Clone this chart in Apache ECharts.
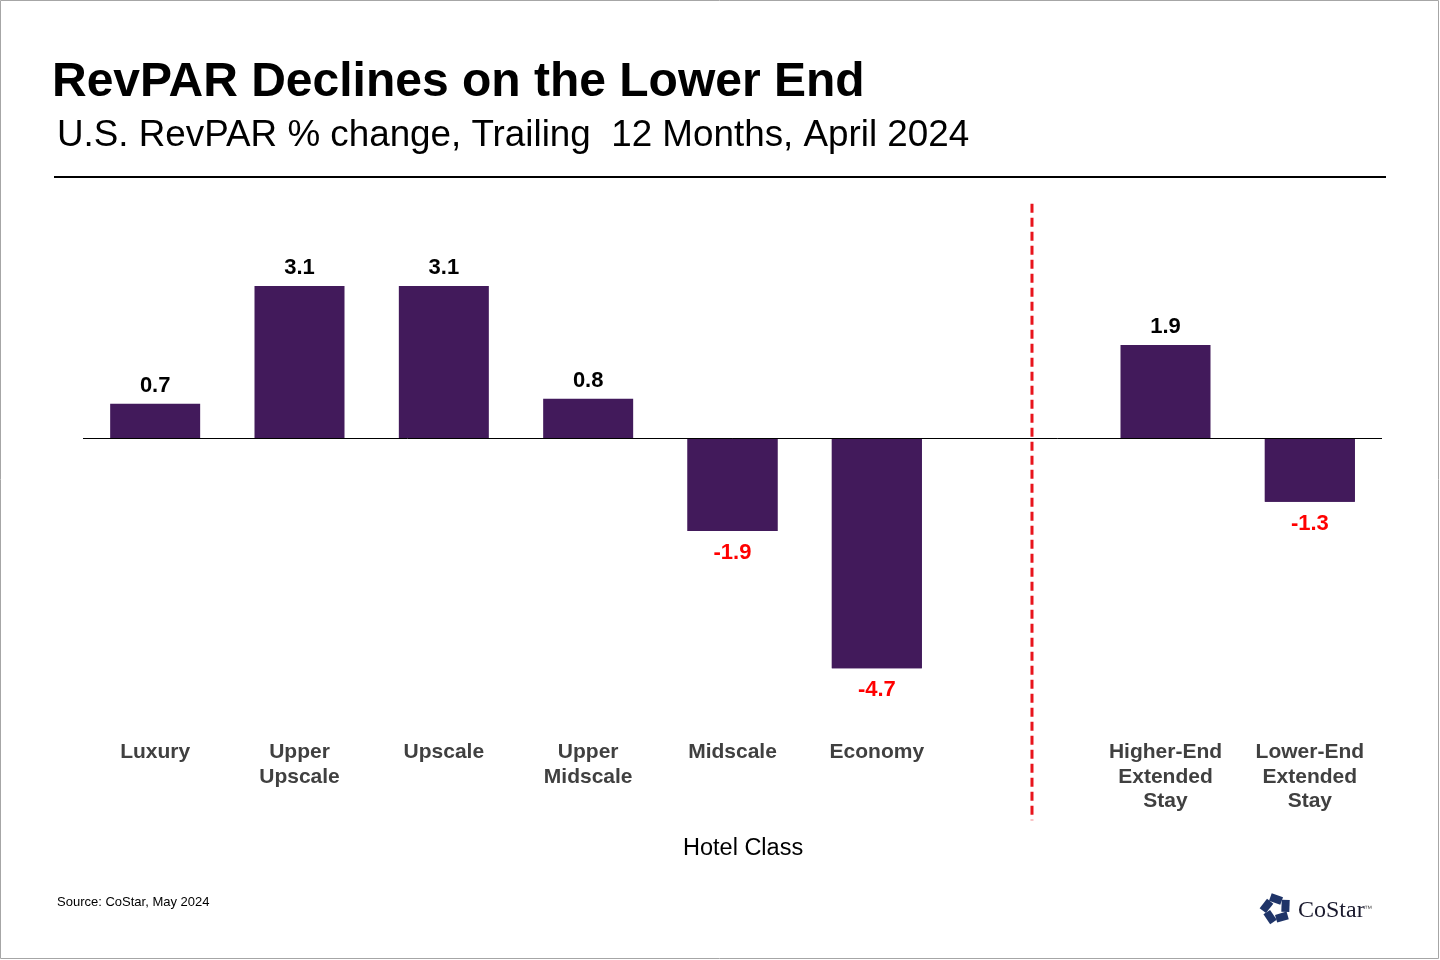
<!DOCTYPE html>
<html>
<head>
<meta charset="utf-8">
<script src="https://cdn.jsdelivr.net/npm/echarts@6/dist/echarts.min.js"></script>
<style>
html,body{margin:0;padding:0;background:#fff;}
#chart{width:1440px;height:960px;}
</style>
</head>
<body>
<div id="chart"></div>
<script>
const categories = ['Luxury', 'Upper\nUpscale', 'Upscale', 'Upper\nMidscale', 'Midscale', 'Economy', '', 'Higher-End\nExtended\nStay', 'Lower-End\nExtended\nStay'];
const values = [0.7, 3.1, 3.1, 0.8, -1.9, -4.7, null, 1.9, -1.3];
const dividerX = 6.575; // position between Economy and Higher-End (in category units on 0..9)
const dividerY = [4.78, -7.8];

const chart = echarts.init(document.getElementById('chart'));
const logoCx = 1276, logoCy = 909;
const logoPieces = [];
for (let i = 0; i < 5; i++) {
  const a = -Math.PI / 2 + i * 2 * Math.PI / 5;
  logoPieces.push({
    type: 'rect',
    x: logoCx + 10 * Math.cos(a),
    y: logoCy + 10 * Math.sin(a),
    rotation: -(a + Math.PI / 2) - 0.35,
    shape: { x: -6, y: -4, width: 12, height: 8 },
    style: { fill: '#1f3468' }
  });
}
chart.setOption({
  backgroundColor: '#ffffff',
  animation: false,
  title: [
    { text: 'RevPAR Declines on the Lower End', left: 47, top: 54,
      textStyle: { fontFamily: 'Liberation Sans', fontSize: 48, fontWeight: 'bold', color: '#000' } },
    { text: 'U.S. RevPAR % change, Trailing  12 Months, April 2024', left: 52, top: 112,
      textStyle: { fontFamily: 'Liberation Sans', fontSize: 36.8, fontWeight: 'normal', color: '#000' } },
    { text: 'Source: CoStar, May 2024', left: 52, top: 891,
      textStyle: { fontFamily: 'Liberation Sans', fontSize: 13, fontWeight: 'normal', color: '#000' } }
  ],
  graphic: [
    { type: 'rect', shape: { x: 0.5, y: 0.5, width: 1438, height: 958 }, style: { fill: 'none', stroke: '#a6a6a6', lineWidth: 1 }, silent: true, z: 100 },
    { type: 'line', shape: { x1: 54, y1: 177, x2: 1386, y2: 177 }, style: { stroke: '#000', lineWidth: 2 } },
    { type: 'group', children: logoPieces },
    { type: 'text', left: 1298, top: 899, style: { text: 'CoStar', font: '24px "Liberation Serif"', fill: '#1a1a2e' } },
    { type: 'text', left: 1364, top: 905, style: { text: '™', font: '8px "Liberation Sans"', fill: '#555' } },
    { type: 'text', left: 683, top: 837, style: { text: 'Hotel Class', font: '23.5px "Liberation Sans"', fill: '#000' } }
  ],
  grid: { left: 83, right: 58, top: 193, height: 539, containLabel: false },
  xAxis: [
    { type: 'category', data: categories, position: 'bottom',
      axisLine: { show: false, onZero: false }, axisTick: { show: false },
      axisLabel: { interval: 0, margin: 8, fontFamily: 'Liberation Sans', fontSize: 21, fontWeight: 'bold', color: '#404040', lineHeight: 24.5 } },
    { type: 'value', min: 0, max: 9, show: false }
  ],
  yAxis: { type: 'value', min: -6, max: 5, show: false, splitLine: { show: false } },
  series: [
    { type: 'bar', data: values, barWidth: 90, xAxisIndex: 0,
      itemStyle: { color: '#421a5b' },
      label: { show: true, position: 'top', distance: 7, fontFamily: 'Liberation Sans', fontSize: 22, fontWeight: 'bold',
        formatter: p => (p.value < 0 ? '' : p.value.toFixed(1)),
        color: '#000' },
      markLine: { silent: true, symbol: 'none', label: { show: false },
        lineStyle: { color: '#000', width: 1, type: 'solid' },
        data: [{ yAxis: 0 }] }
    },
    { type: 'bar', xAxisIndex: 0, barGap: '-100%', barWidth: 90, data: values.map(v => (v !== null && v < 0) ? v : null),
      itemStyle: { color: '#421a5b' },
      label: { show: true, position: 'bottom', distance: 11, fontFamily: 'Liberation Sans', fontSize: 22, fontWeight: 'bold',
        formatter: p => p.value.toFixed(1), color: '#ff0000' } },
    { type: 'line', xAxisIndex: 1, clip: false, symbol: 'none',
      data: [[dividerX, dividerY[0]], [dividerX, dividerY[1]]],
      lineStyle: { color: '#e8141c', width: 3, type: [9, 5] } }
  ]
});
</script>
</body>
</html>
